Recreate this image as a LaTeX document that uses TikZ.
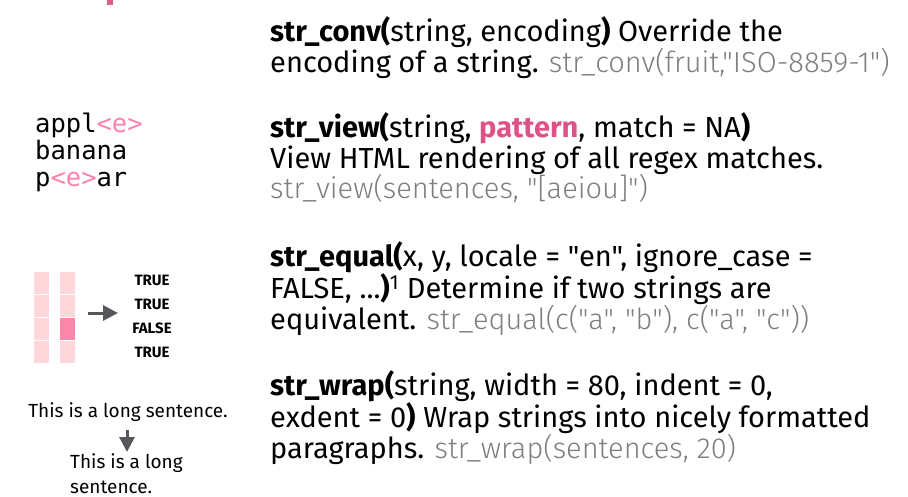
\documentclass[tikz,border=0pt]{standalone}
\usepackage{fontspec}
\setmainfont{Fira Sans}
\newfontfamily\bodyfont{Fira Sans}
\newfontfamily\codefont{Fira Sans Light}
\setmonofont{DejaVu Sans Mono}
\usetikzlibrary{arrows.meta}

\definecolor{headpink}{HTML}{E05A8C}
\definecolor{argpink}{HTML}{DE5287}
\definecolor{matchpink}{HTML}{FF82AC}
\definecolor{cellpale}{HTML}{FFD6DA}
\definecolor{cellhit}{HTML}{FF86AA}
\definecolor{codegray}{HTML}{7E7E7E}
\definecolor{arrowgray}{HTML}{55575B}

\newcommand{\fn}[1]{\textbf{#1}}
\newcommand{\ex}[1]{{\codefont\color{codegray}#1}}

\begin{document}
\begin{tikzpicture}[x=1pt, y=-1pt,
    desc/.style={anchor=base west, inner sep=0pt, align=left,
        font=\bodyfont\fontsize{29}{30.5}\selectfont},
    mono/.style={anchor=base west, inner sep=0pt, align=left,
        font=\ttfamily\fontsize{25.5}{27}\selectfont},
    tf/.style={inner sep=0pt, font=\bodyfont\bfseries\fontsize{15}{16}\selectfont},
    small/.style={anchor=base west, inner sep=0pt, align=left,
        font=\bodyfont\fontsize{19}{24.5}\selectfont},
    cell/.style={fill=cellpale},
    pointer/.style={-{Triangle[length=15pt,width=15pt]}, line width=3pt, arrowgray}]

\useasboundingbox (0,0) rectangle (908,497);

% Cut-off heading mark
\fill[headpink] (107,0) rectangle (113,5);

% Function descriptions (anchored at the baseline of the last line)
\node[desc] (conv) at (270,72.5)
    {\fn{str\_conv(}string, encoding\fn{)} Override the\\
     encoding of a string. \ex{str\_conv(fruit,"ISO-8859-1")}};

\node[desc] (view) at (270,199)
    {\fn{str\_view(}string, {\bfseries\color{argpink}pattern}, match = NA\fn{)}\\
     View HTML rendering of all regex matches.\\
     \ex{str\_view(sentences, "[aeiou]")}};

\node[desc] (equal) at (270,329)
    {\fn{str\_equal(}x, y, locale = "en", ignore\_case =\\
     FALSE, ...\fn{)}\textsuperscript{1} Determine if two strings are\\
     equivalent. \ex{str\_equal(c("a", "b"), c("a", "c"))}};

\node[desc] (wrap) at (270,458)
    {\fn{str\_wrap(}string, width = 80, indent = 0,\\
     exdent = 0\fn{)} Wrap strings into nicely formatted\\
     paragraphs. \ex{str\_wrap(sentences, 20)}};

% Highlighted matches
\node[mono] (fruits) at (35,187)
    {appl{\color{matchpink}<e>}\\banana\\p{\color{matchpink}<e>}ar};

% Two columns of cells
\foreach \r in {0,...,3}
{
    \fill[cell] (34,272+\r*23) rectangle (49,294+\r*23);
    \fill[cell] (60,272+\r*23) rectangle (75,294+\r*23);
}
\fill[cellhit] (60,318) rectangle (75,340);

% Comparison arrow
\coordinate (cmpfrom) at (88,313);
\coordinate (cmpto) at (118,313);
\draw[pointer] (cmpfrom) -- (cmpto);

% Results
\foreach \i/\lab in {1/TRUE,2/TRUE,3/FALSE,4/TRUE}
{
    \node[tf] (tf\i) at (152,256+24*\i) {\lab};
}

% Wrapping example
\node[small, anchor=base] (longline) at (128,417) {This is a long sentence.};
\node[small] (wrapped) at (70,493) {This is a long\\sentence.};

\coordinate (wrapfrom) at (127,430);
\coordinate (wrapto) at (127,452);
\draw[pointer] (wrapfrom) -- (wrapto);

\end{tikzpicture}
\end{document}
